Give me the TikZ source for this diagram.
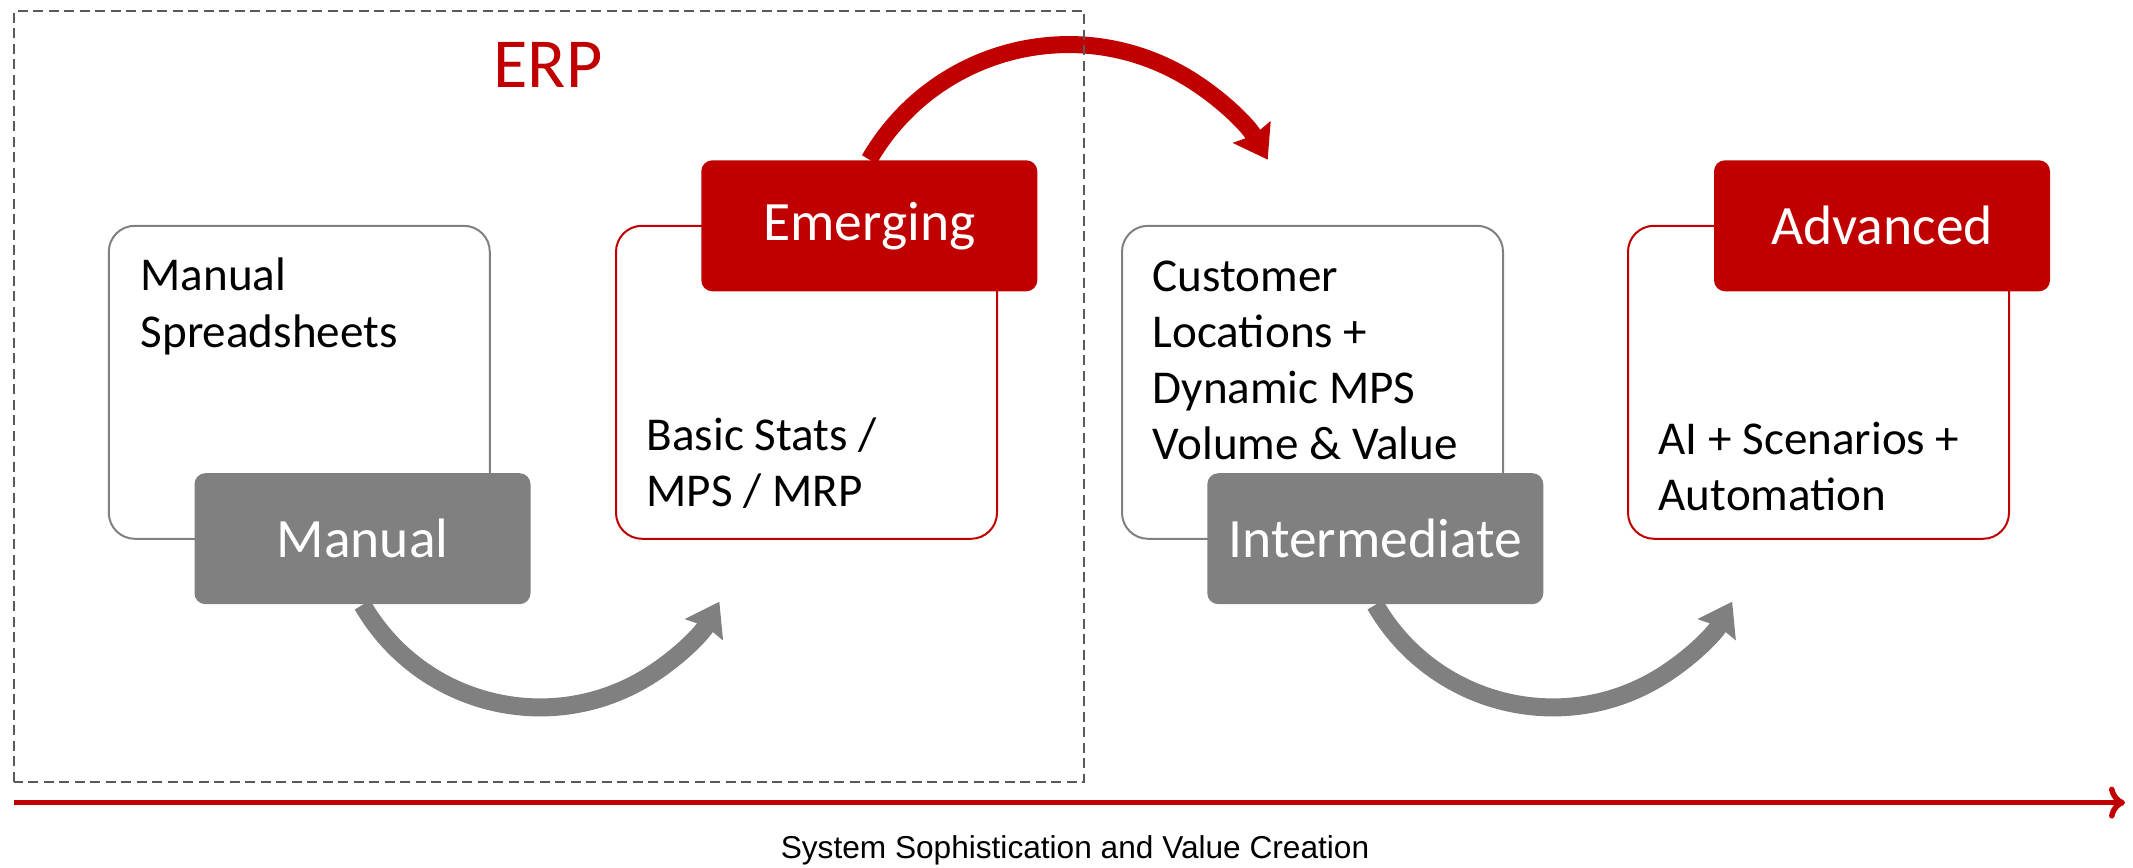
\documentclass[tikz,border=0pt]{standalone}
\usepackage{fontspec}
\setmainfont{Carlito}
\newfontfamily\axisfont{Liberation Sans}
\usepackage{tikz}
\usetikzlibrary{arrows.meta,positioning}
\definecolor{erpred}{HTML}{C00000}
\definecolor{stagegrey}{HTML}{808080}
\definecolor{framegrey}{HTML}{595959}

\begin{document}
\begin{tikzpicture}[
  x=0.1mm, y=0.1mm,
  panel/.style={draw, line width=0.2mm, rounded corners=2.6mm, minimum width=38.1mm, minimum height=31.3mm, inner sep=0pt},
  greypanel/.style={panel, draw=stagegrey},
  redpanel/.style={panel, draw=erpred},
  tag/.style={rounded corners=1.1mm, minimum width=33.6mm, minimum height=13.1mm, inner sep=0pt, text=white, font=\fontsize{15.8pt}{19pt}\selectfont},
  greytag/.style={tag, fill=stagegrey},
  redtag/.style={tag, fill=erpred},
  body/.style={anchor=north west, align=left, inner sep=0pt, font=\fontsize{13.4pt}{16pt}\selectfont},
  greyflow/.style={draw=stagegrey, line width=1.8mm, -{Stealth[length=3.2mm, width=4.4mm, inset=0.4mm, line width=0pt]}},
  redflow/.style={draw=erpred, line width=1.7mm, -{Stealth[length=3.2mm, width=4.4mm, inset=0.4mm, line width=0pt]}},
]
\useasboundingbox (0,0) rectangle (2133,868);

% ERP heading
\node[text=erpred, font=\fontsize{20pt}{24pt}\selectfont] (erp) at (548, 803) {ERP};

% Stage 1: Manual
\node[greypanel] (manualbox) at (299.3, 485.7) {};
\node[body] (manualtxt) at (140, 610.5) {Manual\\Spreadsheets};
\node[greytag] (manualtag) at (362.5, 329.3) {Manual};

% Stage 2: Emerging
\node[redpanel] (emergingbox) at (806.5, 485.7) {};
\node[body] (emergingtxt) at (646, 451) {Basic Stats /\\MPS / MRP};
\node[redtag] (emergingtag) at (869.3, 642.2) {Emerging};

% Stage 3: Intermediate
\node[greypanel] (interbox) at (1312.5, 485.7) {};
\node[body] (intertxt) at (1152, 608) {Customer\\Locations +\\Dynamic MPS\\Volume \& Value};
\node[greytag] (intertag) at (1375.3, 329.3) {Intermediate};

% Stage 4: Advanced
\node[redpanel] (advancedbox) at (1818.5, 485.7) {};
\node[body] (advancedtxt) at (1658, 447) {AI + Scenarios +\\Automation};
\node[redtag] (advancedtag) at (1882, 642.2) {Advanced};

% Curved steps
\draw[greyflow] (manualtag.south) arc[start angle=210, end angle=331, radius=20.5mm];
\draw[greyflow] (intertag.south) arc[start angle=210, end angle=331, radius=20.5mm];
\draw[redflow] (emergingtag.north) arc[start angle=150, end angle=30, radius=23mm];

% ERP frame
\draw[framegrey, line width=0.2mm, dash pattern=on 1mm off 0.55mm] (13.6, 86) rectangle (1084, 857);

% Axis
\coordinate (axisstart) at (13.6, 65.4);
\coordinate (axisend) at (2125, 65.4);
\draw[erpred, line width=0.55mm, -{To[length=1.6mm, width=3.2mm]}] (axisstart) -- (axisend);
\node[font=\axisfont\fontsize{9pt}{11pt}\selectfont] (axislabel) at (1075, 18) {System Sophistication and Value Creation};

\end{tikzpicture}
\end{document}
